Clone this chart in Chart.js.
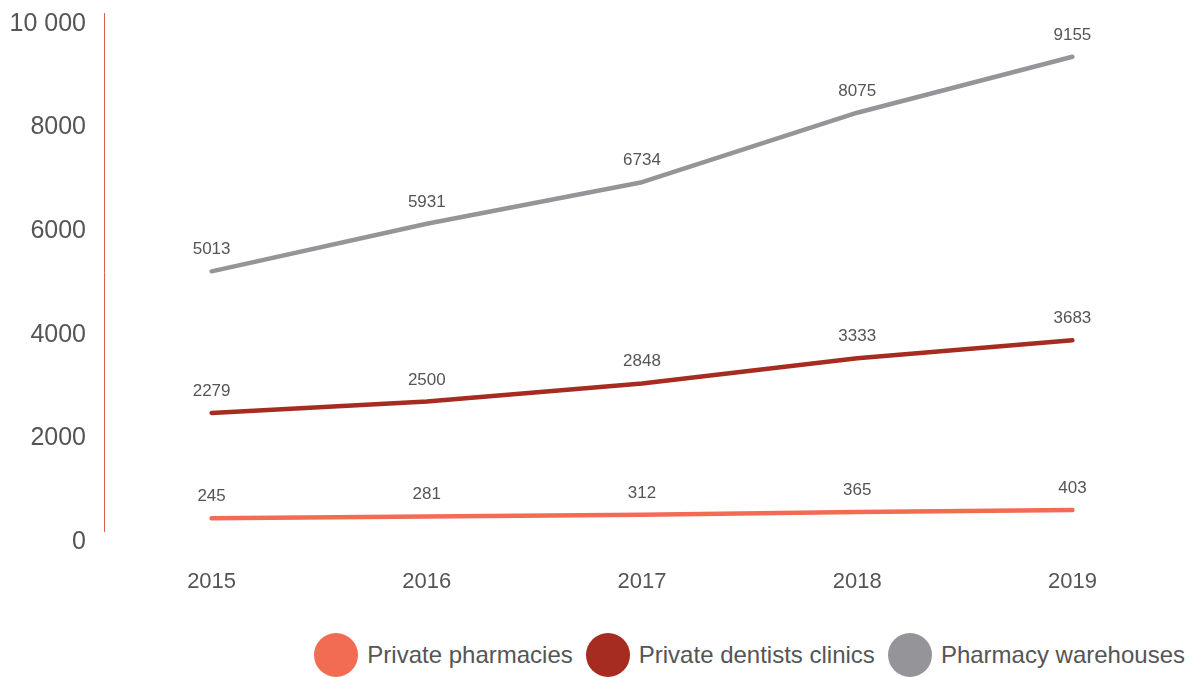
<!DOCTYPE html>
<html>
<head>
<meta charset="utf-8">
<title>Pharmacies, dentists clinics and warehouses</title>
<script src="https://cdn.jsdelivr.net/npm/chart.js@4/dist/chart.umd.min.js"></script>
<style>
    body { margin: 0; background: #fff; font-family: "Liberation Sans", Arial, Helvetica, sans-serif; }
    #wrap { position: relative; width: 1192px; height: 677px; }
    #legend { position: absolute; top: 633px; right: 7px; display: flex; align-items: center; }
    #legend .item { display: flex; align-items: center; margin-left: 13px; }
    #legend .dot { width: 44px; height: 44px; border-radius: 50%; margin-right: 9px; }
    #legend .txt { font-size: 24px; color: #555; white-space: nowrap; }
</style>
</head>
<body>
<div id="wrap">
    <canvas id="trend_chart" width="1192" height="620"></canvas>
    <div id="legend"></div>
</div>
<script>
var years = ['2015', '2016', '2017', '2018', '2019'];
var pharmacies = [245, 281, 312, 365, 403];
var dentists = [2279, 2500, 2848, 3333, 3683];
var warehouses = [5013, 5931, 6734, 8075, 9155];

var yTicks = [0, 2000, 4000, 6000, 8000, 10000];
var yTickLabels = ['0', '2000', '4000', '6000', '8000', '10 000'];

var seriesNames = ['Private pharmacies', 'Private dentists clinics', 'Pharmacy warehouses'];
var seriesColors = ['#f26c54', '#a62c21', '#959599'];

var fontFamily = '"Liberation Sans", Arial, Helvetica, sans-serif';

// value above each point
var valueLabels = {
    id: 'valueLabels',
    afterDatasetsDraw: function (chart) {
        var ctx = chart.ctx;
        ctx.save();
        ctx.font = '17px ' + fontFamily;
        ctx.fillStyle = '#555555';
        ctx.textAlign = 'center';
        ctx.textBaseline = 'alphabetic';
        chart.data.datasets.forEach(function (ds, i) {
            chart.getDatasetMeta(i).data.forEach(function (pt, j) {
                ctx.fillText(String(ds.data[j]), pt.x, pt.y - 17);
            });
        });
        ctx.restore();
    }
};

function makeSet(idx, values) {
    return {
        label: seriesNames[idx],
        data: values,
        borderColor: seriesColors[idx],
        backgroundColor: seriesColors[idx],
        borderWidth: 4.5,
        borderCapStyle: 'round',
        borderJoinStyle: 'round',
        pointRadius: 0,
        tension: 0,
        fill: false
    };
}

var ctx = document.getElementById('trend_chart').getContext('2d');
var trendChart = new Chart(ctx, {
    type: 'line',
    data: {
        labels: years,
        datasets: [
            makeSet(0, pharmacies),
            makeSet(1, dentists),
            makeSet(2, warehouses)
        ]
    },
    options: {
        responsive: false,
        animation: false,
        devicePixelRatio: 1,
        layout: { padding: { top: 13, right: 12, left: 0, bottom: 0 } },
        plugins: {
            legend: { display: false },
            tooltip: { enabled: false }
        },
        scales: {
            x: {
                offset: true,
                grid: { display: false, drawTicks: false },
                border: { display: false },
                ticks: {
                    color: '#555555',
                    font: { family: fontFamily, size: 22 },
                    padding: 38
                },
                afterFit: function (scale) {
                    scale.height = 89;
                    scale.paddingLeft = 0;
                    scale.paddingRight = 0;
                }
            },
            y: {
                min: 0,
                max: 10000,
                grid: { display: false, drawTicks: false },
                border: { display: true, color: '#d9604c', width: 1 },
                afterBuildTicks: function (scale) {
                    scale.ticks = yTicks.map(function (v) { return { value: v }; });
                },
                ticks: {
                    color: '#555555',
                    font: { family: fontFamily, size: 25 },
                    padding: 18,
                    labelOffset: 11,
                    callback: function (value, index) {
                        return yTickLabels[index];
                    }
                },
                afterFit: function (scale) {
                    scale.width = 104;
                    scale.paddingTop = 0;
                    scale.paddingBottom = 0;
                }
            }
        }
    },
    plugins: [valueLabels]
});

// legend under the chart
var html = '';
for (var i = 0; i < seriesNames.length; i++) {
    html += '<div class="item"><span class="dot" style="background:' + seriesColors[i] + '"></span>' +
        '<span class="txt">' + seriesNames[i] + '</span></div>';
}
document.getElementById('legend').innerHTML = html;
</script>
</body>
</html>
